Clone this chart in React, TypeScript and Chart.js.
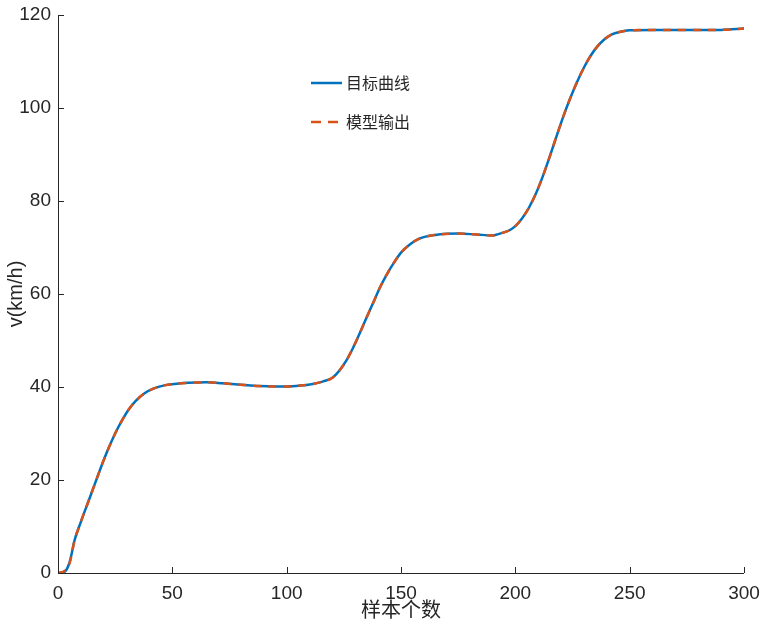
import React, { useEffect, useRef } from "react";
import { Chart, registerables } from "chart.js";

Chart.register(...registerables);

const sampleIndex = [0, 3, 5, 6, 7, 10, 13, 16, 19, 22, 25, 28, 31, 34, 38, 42, 47, 52, 57, 65, 72, 80, 88, 95, 100, 106, 112, 116, 120, 123, 126, 129, 132, 135, 138, 141, 144, 147, 150, 154, 158, 165, 175, 183, 190, 194, 197, 200, 203, 206, 209, 212, 215, 218, 221, 224, 227, 230, 233, 236, 239, 242, 246, 250, 260, 270, 280, 290, 300];
const targetValues = [0, 0.3, 2.2, 4.2, 6.6, 11, 15, 19, 23, 26.7, 30, 32.8, 35.2, 37, 38.7, 39.7, 40.4, 40.7, 40.9, 41, 40.8, 40.5, 40.2, 40.1, 40.1, 40.3, 40.7, 41.2, 42, 43.5, 45.6, 48.4, 51.6, 55, 58.3, 61.6, 64.4, 66.8, 68.9, 70.7, 71.9, 72.7, 73, 72.8, 72.6, 73.1, 73.6, 74.6, 76.3, 78.6, 81.6, 85.3, 89.5, 93.9, 98.2, 102.1, 105.6, 108.7, 111.3, 113.3, 114.8, 115.8, 116.4, 116.7, 116.8, 116.8, 116.8, 116.8, 117.1];
const modelValues = [0, 0.5, 2.0, 4.0, 6.5, 11, 15, 19, 23, 26.7, 30, 32.8, 35.2, 37, 38.7, 39.7, 40.4, 40.7, 40.9, 41, 40.8, 40.5, 40.2, 40.1, 40.1, 40.3, 40.7, 41.2, 42, 43.5, 45.6, 48.4, 51.6, 55, 58.3, 61.6, 64.4, 66.8, 68.9, 70.7, 71.9, 72.7, 73, 72.8, 72.6, 73.1, 73.6, 74.6, 76.3, 78.6, 81.6, 85.3, 89.5, 93.9, 98.2, 102.1, 105.6, 108.7, 111.3, 113.3, 114.8, 115.8, 116.4, 116.7, 116.8, 116.8, 116.8, 116.8, 117.1];

const seriesNames = ["目标曲线", "模型输出"];
const xTitle = "样本个数";
const yTitle = "v(km/h)";
const xTicks = [0, 50, 100, 150, 200, 250, 300];
const yTicks = [0, 20, 40, 60, 80, 100, 120];

const BLUE = "#0072BD";
const ORANGE = "#D95319";
const AXIS = "#262626";

const decorPlugin = {
  id: "matlabDecor",
  afterDraw(chart: any) {
    const { ctx, chartArea } = chart;
    const xs = chart.scales.x;
    const ys = chart.scales.y;
    ctx.save();
    ctx.strokeStyle = AXIS;
    ctx.lineWidth = 1;
    ctx.beginPath();
    ctx.moveTo(chartArea.left + 0.5, chartArea.top);
    ctx.lineTo(chartArea.left + 0.5, chartArea.bottom + 0.5);
    ctx.lineTo(chartArea.right, chartArea.bottom + 0.5);
    ctx.stroke();
    ctx.beginPath();
    xTicks.forEach((v) => {
      const px = Math.round(xs.getPixelForValue(v)) + 0.5;
      ctx.moveTo(px, chartArea.bottom);
      ctx.lineTo(px, chartArea.bottom - 6);
    });
    yTicks.forEach((v) => {
      const py = Math.round(ys.getPixelForValue(v)) + 0.5;
      ctx.moveTo(chartArea.left, py);
      ctx.lineTo(chartArea.left + 6, py);
    });
    ctx.stroke();
    ctx.fillStyle = AXIS;
    ctx.textAlign = "center";
    ctx.textBaseline = "middle";
    ctx.font = '20px "Noto Sans CJK SC", sans-serif';
    ctx.fillText(xTitle, (chartArea.left + chartArea.right) / 2, 609);
    ctx.save();
    ctx.translate(16, (chartArea.top + chartArea.bottom) / 2);
    ctx.rotate(-Math.PI / 2);
    ctx.font = '20px "Liberation Sans", Arial, sans-serif';
    ctx.fillText(yTitle, 0, 0);
    ctx.restore();
    const lx = 311;
    const rows = [83, 122];
    ctx.lineWidth = 2.5;
    ctx.strokeStyle = BLUE;
    ctx.setLineDash([]);
    ctx.beginPath();
    ctx.moveTo(lx, rows[0]);
    ctx.lineTo(lx + 31, rows[0]);
    ctx.stroke();
    ctx.strokeStyle = ORANGE;
    ctx.setLineDash([10, 7]);
    ctx.beginPath();
    ctx.moveTo(lx, rows[1]);
    ctx.lineTo(lx + 28, rows[1]);
    ctx.stroke();
    ctx.setLineDash([]);
    ctx.textAlign = "left";
    ctx.font = '16px "Noto Sans CJK SC", sans-serif';
    ctx.fillText(seriesNames[0], 346, rows[0]);
    ctx.fillText(seriesNames[1], 346, rows[1]);
    ctx.restore();
  },
};

export default function App() {
  const canvasRef = useRef<HTMLCanvasElement | null>(null);
  useEffect(() => {
    const canvas = canvasRef.current;
    if (!canvas) return;
    const chart = new Chart(canvas, {
      type: "line",
      data: {
        datasets: [
          {
            label: seriesNames[0],
            data: sampleIndex.map((x, i) => ({ x, y: targetValues[i] })),
            borderColor: BLUE,
            borderWidth: 2.5,
            pointRadius: 0,
            cubicInterpolationMode: "monotone",
            fill: false,
            order: 1,
          },
          {
            label: seriesNames[1],
            data: sampleIndex.map((x, i) => ({ x, y: modelValues[i] })),
            borderColor: ORANGE,
            borderWidth: 2.5,
            borderDash: [8, 7],
            pointRadius: 0,
            cubicInterpolationMode: "monotone",
            fill: false,
            order: 0,
          },
        ],
      },
      plugins: [decorPlugin],
      options: {
        animation: false,
        responsive: false,
        maintainAspectRatio: false,
        layout: { padding: { top: 15, right: 37, left: 0, bottom: 0 } },
        plugins: { legend: { display: false }, tooltip: { enabled: false } },
        scales: {
          x: {
            type: "linear",
            min: 0,
            max: 300,
            afterBuildTicks: (s: any) => {
              s.ticks = xTicks.map((v) => ({ value: v }));
            },
            afterFit: (s: any) => {
              s.height = 53;
              s.paddingLeft = 0;
              s.paddingRight = 0;
            },
            grid: { display: false, drawTicks: false },
            border: { display: false },
            ticks: {
              color: AXIS,
              padding: 9,
              maxRotation: 0,
              font: { family: '"Liberation Sans", Arial, sans-serif', size: 19 },
            },
          },
          y: {
            type: "linear",
            min: 0,
            max: 120,
            afterBuildTicks: (s: any) => {
              s.ticks = yTicks.map((v) => ({ value: v }));
            },
            afterFit: (s: any) => {
              s.width = 58;
              s.paddingTop = 0;
              s.paddingBottom = 0;
            },
            grid: { display: false, drawTicks: false },
            border: { display: false },
            ticks: {
              color: AXIS,
              padding: 7,
              font: { family: '"Liberation Sans", Arial, sans-serif', size: 19 },
            },
          },
        },
      },
    } as any);
    return () => chart.destroy();
  }, []);
  return (
    <div style={{ position: "absolute", left: 0, top: 0, width: 781, height: 626, background: "#fff" }}>
      <canvas ref={canvasRef} width={781} height={626} style={{ width: 781, height: 626 }} />
    </div>
  );
}
